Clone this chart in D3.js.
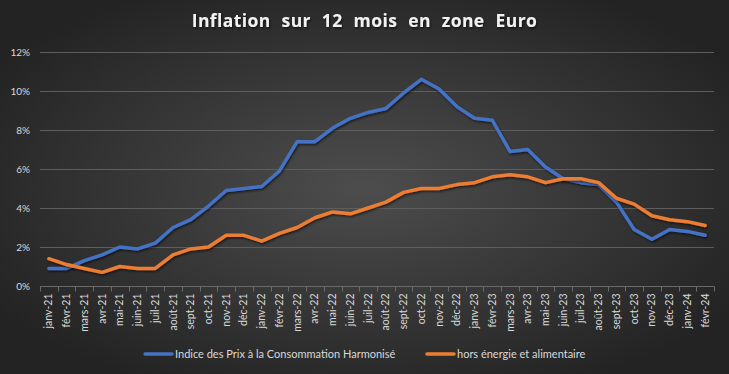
<!DOCTYPE html>
<html>
<head>
<meta charset="utf-8">
<script src="https://cdn.jsdelivr.net/npm/d3@7"></script>
<style>
  html, body { margin: 0; padding: 0; background: #2b2b2b; }
  svg { display: block; }
</style>
</head>
<body>
<div id="chart"></div>
<script>
// -- data ----------------------------------------------------------------
const months = [
  'janv-21','févr-21','mars-21','avr-21','mai-21','juin-21','juil-21','août-21','sept-21','oct-21','nov-21','déc-21',
  'janv-22','févr-22','mars-22','avr-22','mai-22','juin-22','juil-22','août-22','sept-22','oct-22','nov-22','déc-22',
  'janv-23','févr-23','mars-23','avr-23','mai-23','juin-23','juil-23','août-23','sept-23','oct-23','nov-23','déc-23',
  'janv-24','févr-24'
];
const ipch = [
  0.9, 0.9, 1.3, 1.6, 2.0, 1.9, 2.2, 3.0, 3.4, 4.1, 4.9, 5.0,
  5.1, 5.9, 7.4, 7.4, 8.1, 8.6, 8.9, 9.1, 9.9, 10.6, 10.1, 9.2,
  8.6, 8.5, 6.9, 7.0, 6.1, 5.5, 5.3, 5.2, 4.3, 2.9, 2.4, 2.9,
  2.8, 2.6
];
const core = [
  1.4, 1.1, 0.9, 0.7, 1.0, 0.9, 0.9, 1.6, 1.9, 2.0, 2.6, 2.6,
  2.3, 2.7, 3.0, 3.5, 3.8, 3.7, 4.0, 4.3, 4.8, 5.0, 5.0, 5.2,
  5.3, 5.6, 5.7, 5.6, 5.3, 5.5, 5.5, 5.3, 4.5, 4.2, 3.6, 3.4,
  3.3, 3.1
];
const yTicks = [0, 2, 4, 6, 8, 10, 12];
const seriesNames = ['Indice des Prix à la Consommation Harmonisé', 'hors énergie et alimentaire'];
const seriesColors = ['#4472C4', '#ED7D31'];

// -- layout --------------------------------------------------------------
const W = 729, H = 374;
const m = { left: 40, right: 15, top: 52, bottom: 88 };
const font = 'Lato, "Open Sans", sans-serif';

const svg = d3.select('#chart').append('svg')
  .attr('width', W).attr('height', H);

const defs = svg.append('defs');
const grad = defs.append('radialGradient').attr('id', 'bg')
  .attr('cx', '50%').attr('cy', '50%').attr('r', '60%');
grad.append('stop').attr('offset', '0%').attr('stop-color', '#4d4d4d');
grad.append('stop').attr('offset', '100%').attr('stop-color', '#232323');

const shadow = defs.append('filter').attr('id', 'shadow')
  .attr('x', '-10%').attr('y', '-10%').attr('width', '120%').attr('height', '130%');
shadow.append('feDropShadow').attr('dx', 1).attr('dy', 1.5)
  .attr('stdDeviation', 1).attr('flood-color', '#000').attr('flood-opacity', 0.6);

svg.append('rect').attr('width', W).attr('height', H).attr('fill', 'url(#bg)');

const x = d3.scaleBand().domain(months).range([m.left, W - m.right]);
const y = d3.scaleLinear().domain([0, 12]).range([H - m.bottom, m.top]);

// title
svg.append('text')
  .attr('x', W / 2).attr('y', 27)
  .attr('text-anchor', 'middle')
  .attr('fill', '#f2f2f2')
  .attr('font-family', '"Open Sans", sans-serif')
  .attr('font-weight', 700)
  .attr('font-size', 17.5)
  .attr('letter-spacing', 0.4)
  .attr('word-spacing', 6)
  .attr('filter', 'url(#shadow)')
  .text('Inflation sur 12 mois en zone Euro');

// grid
svg.append('g').selectAll('line').data(yTicks.filter(d => d > 0)).join('line')
  .attr('x1', m.left).attr('x2', W - m.right)
  .attr('y1', d => Math.round(y(d)) + 0.5).attr('y2', d => Math.round(y(d)) + 0.5)
  .attr('stroke', '#5e5e5e').attr('stroke-width', 1);

// y axis labels
const yAxis = svg.append('g')
  .attr('transform', `translate(${m.left},0)`)
  .call(d3.axisLeft(y).tickValues(yTicks).tickFormat(d => d + '%').tickSize(0).tickPadding(10));
yAxis.select('.domain').remove();
yAxis.selectAll('text')
  .attr('fill', '#d9d9d9').attr('font-family', font).attr('font-size', 10);

// x axis
const y0 = Math.round(y(0)) + 0.5;
const xg = svg.append('g').attr('transform', `translate(0,${y0})`);
xg.append('line').attr('x1', m.left).attr('x2', W - m.right)
  .attr('stroke', '#6a6a6a');
const bounds = months.map(d => x(d)).concat([x.range()[1]]);
xg.selectAll('line.tick').data(bounds).join('line').attr('class', 'tick')
  .attr('x1', d => Math.round(d) + 0.5).attr('x2', d => Math.round(d) + 0.5)
  .attr('y1', 0).attr('y2', 5).attr('stroke', '#6a6a6a');
xg.selectAll('text').data(months).join('text')
  .attr('transform', d => `translate(${x(d) + x.bandwidth() / 2 + 3.5},7) rotate(-90)`)
  .attr('text-anchor', 'end')
  .attr('fill', '#d9d9d9').attr('font-family', font).attr('font-size', 10.5)
  .text(d => d);

// lines
const line = d3.line()
  .x((d, i) => x(months[i]) + x.bandwidth() / 2)
  .y(d => y(d));
[ipch, core].forEach((s, k) => {
  svg.append('path').datum(s)
    .attr('d', line)
    .attr('fill', 'none')
    .attr('stroke', seriesColors[k])
    .attr('stroke-width', 3.5)
    .attr('stroke-linejoin', 'round')
    .attr('stroke-linecap', 'round')
    .attr('filter', 'url(#shadow)');
});

// legend
const legendX = [145, 427];
const lg = svg.append('g').attr('transform', 'translate(0,354)');
seriesNames.forEach((name, k) => {
  lg.append('line')
    .attr('x1', legendX[k]).attr('x2', legendX[k] + 27)
    .attr('stroke', seriesColors[k]).attr('stroke-width', 3.5)
    .attr('stroke-linecap', 'round');
  lg.append('text')
    .attr('x', legendX[k] + 30).attr('y', 4)
    .attr('fill', '#d9d9d9').attr('font-family', font).attr('font-size', 11)
    .text(name);
});
</script>
</body>
</html>
